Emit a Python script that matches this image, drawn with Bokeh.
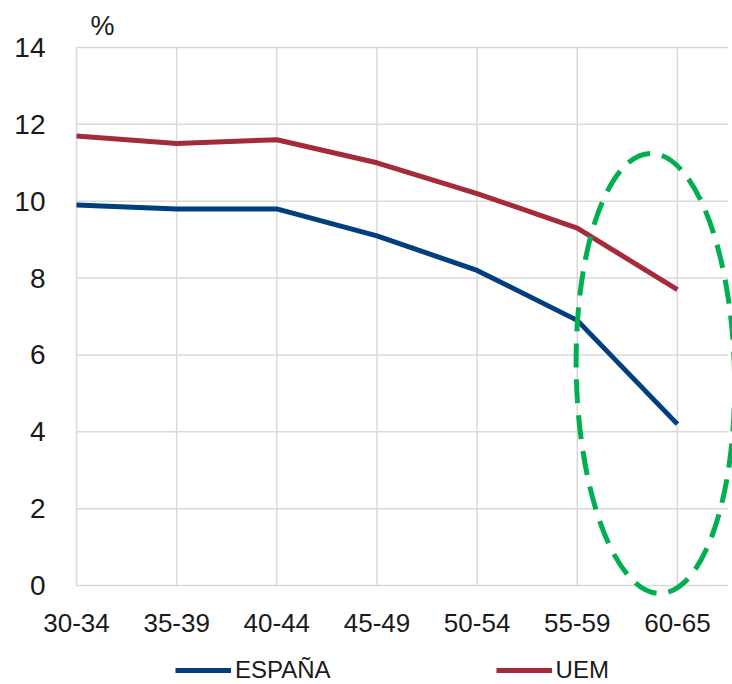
from bokeh.plotting import figure
from bokeh.models import Legend, LegendItem, Range1d
from bokeh.core.properties import value
from bokeh.embed import file_html
from bokeh.resources import INLINE

categories = ["30-34", "35-39", "40-44", "45-49", "50-54", "55-59", "60-65"]
espana = [9.9, 9.8, 9.8, 9.1, 8.2, 6.9, 4.2]
uem = [11.7, 11.5, 11.6, 11.0, 10.2, 9.3, 7.7]
y_ticks = [0, 2, 4, 6, 8, 10, 12, 14]
unit_label = "%"

FONT = "Liberation Sans"
TXT = "#1a1a1a"
GRID = "#d9d9d9"
xs = list(range(len(categories)))
x_end = 6.51

p = figure(width=732, height=684, output_backend="svg", toolbar_location=None,
           x_range=Range1d(-0.759, 6.55), y_range=Range1d(-2.575, 15.223),
           min_border_left=0, min_border_right=0, min_border_top=0, min_border_bottom=0)
p.outline_line_color = None
p.background_fill_color = "white"
p.xgrid.visible = False
p.ygrid.visible = False
p.xaxis.visible = False
p.yaxis.visible = False

# gridlines drawn from the tick arrays so they stop at the data extents
p.segment(x0=xs, y0=[0] * len(xs), x1=xs, y1=[max(y_ticks)] * len(xs),
          line_color=GRID, line_width=1.5)
p.segment(x0=[0] * len(y_ticks), y0=y_ticks, x1=[x_end] * len(y_ticks), y1=y_ticks,
          line_color=GRID, line_width=1.5)

# category labels under the baseline
p.text(x=xs, y=[0] * len(xs), text=categories, y_offset=37, text_align="center",
       text_baseline="middle", text_font=value(FONT), text_font_size="26px", text_color=TXT)
# value labels left of the first gridline
p.text(x=[0] * len(y_ticks), y=y_ticks, text=[str(t) for t in y_ticks], x_offset=-31,
       text_align="right", text_baseline="middle", text_font=value(FONT),
       text_font_size="28px", text_color=TXT)
# unit label above the value axis
p.text(x=[0], y=[max(y_ticks)], text=[unit_label], x_offset=14, y_offset=-22,
       text_align="left", text_baseline="middle", text_font=value(FONT),
       text_font_size="27px", text_color=TXT)

r_es = p.line(xs, espana, line_color="#003f7f", line_width=5)
r_uem = p.line(xs, uem, line_color="#a52a3a", line_width=5)

p.ellipse(x=5.78, y=5.52, width=1.58, height=11.45, angle=0.023, fill_color=None,
          line_color="#00b050", line_width=5, line_dash="24 12")

legend = Legend(items=[LegendItem(label="ESPAÑA", renderers=[r_es]),
                       LegendItem(label="UEM", renderers=[r_uem])],
                orientation="horizontal", location=(175, 0),
                glyph_width=56, glyph_height=20, label_standoff=4, spacing=165,
                label_text_font=FONT, label_text_font_size="24px", label_text_color=TXT,
                border_line_color=None, background_fill_alpha=0, padding=0, margin=0)
p.add_layout(legend, "center")

open("out.html", "w").write(file_html(p, INLINE))
